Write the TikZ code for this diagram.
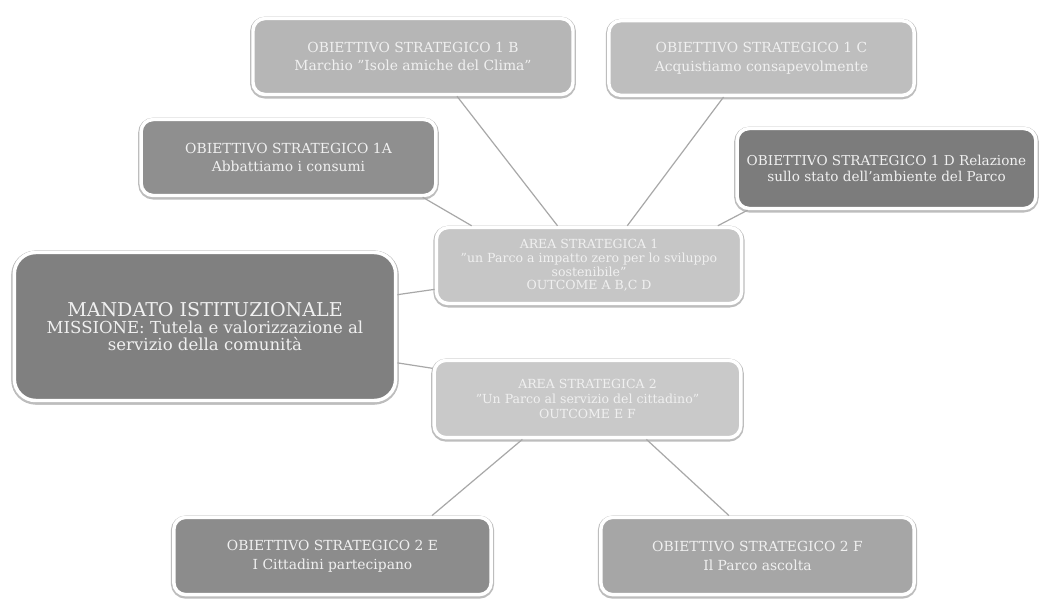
\documentclass[tikz,border=0pt]{standalone}
\usepackage{fontspec}
\setmainfont{DejaVu Serif}
\usetikzlibrary{calc}
\definecolor{txt}{HTML}{F0F0F0}
\definecolor{rim}{HTML}{BDBDBD}
\definecolor{conn}{HTML}{A8A8A8}
\tikzset{
  box/.style={rectangle, rounded corners=9pt, draw=white, line width=2.6pt,
    text=txt, align=center, font=\fontsize{10.4}{14}\selectfont,
    inner sep=0pt,
    preaction={draw=rim, line width=4.4pt, rounded corners=9pt, transform canvas={yshift=-0.8pt}}},
  conn/.style={draw=conn, line width=0.9pt},
}
\begin{document}
\begin{tikzpicture}[x=0.75pt,y=-0.75pt]
\useasboundingbox (0,0) rectangle (1043,604);
\fill[white] (0,0) rectangle (1043,604);

\node[box, fill={rgb,255:red,182;green,182;blue,182}, minimum width=240pt, minimum height=57pt] (b1) at (413,56.5)
  {OBIETTIVO STRATEGICO 1 B\\Marchio "Isole amiche del Clima"};
\node[box, fill={rgb,255:red,190;green,190;blue,190}, minimum width=229pt, minimum height=56pt] (c1) at (761.5,58)
  {OBIETTIVO STRATEGICO 1 C\\Acquistiamo consapevolmente};
\node[box, fill={rgb,255:red,143;green,143;blue,143}, minimum width=221pt, minimum height=57pt] (a1) at (288.5,157.5)
  {OBIETTIVO STRATEGICO 1A\\Abbattiamo i consumi};
\node[box, fill={rgb,255:red,124;green,124;blue,124}, minimum width=224pt, minimum height=60pt, font=\fontsize{10.2}{12.5}\selectfont] (d1) at (886.5,168.5)
  {OBIETTIVO STRATEGICO 1 D Relazione\\sullo stato dell'ambiente del Parco};
\node[box, fill={rgb,255:red,198;green,198;blue,198}, minimum width=229pt, minimum height=57pt, font=\fontsize{9.4}{10.3}\selectfont] (ar1) at (589,265.5)
  {AREA STRATEGICA 1\\"un Parco a impatto zero per lo sviluppo\\sostenibile"\\OUTCOME A B,C D};
\node[box, fill={rgb,255:red,128;green,128;blue,128}, minimum width=286pt, minimum height=111pt, rounded corners=16pt,
  preaction={draw=rim, line width=4.4pt, rounded corners=16pt, transform canvas={yshift=-0.8pt}}] (m) at (205,326.5)
  {{\fontsize{14.3}{16}\selectfont MANDATO ISTITUZIONALE}\\[-1pt]{\fontsize{12.4}{13.5}\selectfont MISSIONE: Tutela e valorizzazione al}\\[-1pt]{\fontsize{12.4}{13.5}\selectfont servizio della comunità}};
\node[box, fill={rgb,255:red,201;green,201;blue,201}, minimum width=230pt, minimum height=58pt, font=\fontsize{9.4}{11}\selectfont] (ar2) at (587.5,399)
  {AREA STRATEGICA 2\\"Un Parco al servizio del cittadino"\\OUTCOME E F};
\node[box, fill={rgb,255:red,140;green,140;blue,140}, minimum width=238pt, minimum height=58pt] (e2) at (332.5,556)
  {OBIETTIVO STRATEGICO 2 E\\I Cittadini partecipano};
\node[box, fill={rgb,255:red,166;green,166;blue,166}, minimum width=235pt, minimum height=58pt] (f2) at (757.5,556)
  {OBIETTIVO STRATEGICO 2 F\\Il Parco ascolta};

\draw[conn] ($(b1.south west)!0.636!(b1.south east)$) -- ($(ar1.north west)!0.398!(ar1.north east)$);
\draw[conn] ($(c1.south west)!0.377!(c1.south east)$) -- ($(ar1.north west)!0.624!(ar1.north east)$);
\draw[conn] ($(a1.south west)!0.95!(a1.south east)$) -- ($(ar1.north west)!0.12!(ar1.north east)$);
\draw[conn] ($(d1.south west)!0.04!(d1.south east)$) -- ($(ar1.north west)!0.917!(ar1.north east)$);
\draw[conn] ($(m.north east)!0.29!(m.south east)$) -- ($(ar1.north west)!0.8!(ar1.south west)$);
\draw[conn] ($(m.north east)!0.74!(m.south east)$) -- ($(ar2.north west)!0.12!(ar2.south west)$);
\draw[conn] ($(ar2.south west)!0.29!(ar2.south east)$) -- ($(e2.north west)!0.81!(e2.north east)$);
\draw[conn] ($(ar2.south west)!0.69!(ar2.south east)$) -- ($(f2.north west)!0.41!(f2.north east)$);
\end{tikzpicture}
\end{document}
